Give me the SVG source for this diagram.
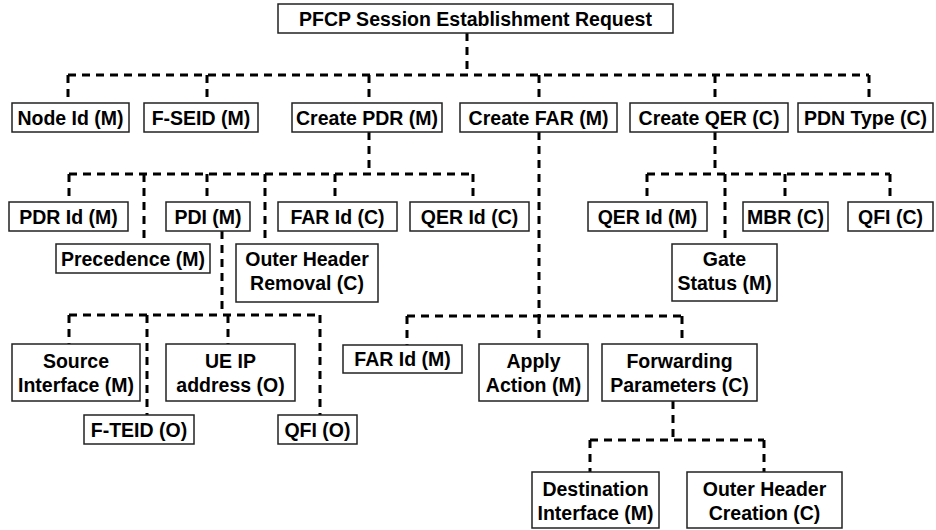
<svg xmlns="http://www.w3.org/2000/svg" width="936" height="530" viewBox="0 0 936 530">
<style>
.b{fill:#fff;stroke:#222;stroke-width:1.5}
.t{font-family:"Liberation Sans",Arial,sans-serif;font-weight:bold;font-size:19.5px;fill:#000;text-anchor:middle}
.c{fill:none;stroke:#000;stroke-width:3;stroke-dasharray:8 6}
</style>
<rect width="936" height="530" fill="#fff"/>
<g id="connectors">
<path class="c" d="M467 33V75M68 75H869M68 75V103M207 75V103M369 75V103M539 75V103M715 75V103M869 75V103"/>
<path class="c" d="M369 132V174M69 174H473M69 174V202M144 174V244M207 174V202M265 174V244M335 174V202M473 174V202"/>
<path class="c" d="M715 132V174M647 174H890M647 174V202M725 174V244M785 174V202M890 174V202"/>
<path class="c" d="M539 132V316M407 316H682M407 316V345M539 316V344M682 316V344"/>
<path class="c" d="M222 231V315M69 315H320M69 315V344M147 315V415M228 315V344M320 315V415"/>
<path class="c" d="M673 401V440M590 440H764M590 440V472M764 440V472"/>
</g>
<g id="root"><rect class="b" x="278" y="4" width="395" height="29"/><text class="t" x="475.5" y="25.5">PFCP Session Establishment Request</text></g>
<g id="node-id"><rect class="b" x="12" y="103" width="117" height="29"/><text class="t" x="70.5" y="124.5">Node Id (M)</text></g>
<g id="f-seid"><rect class="b" x="144" y="103" width="114" height="29"/><text class="t" x="201" y="124.5">F-SEID (M)</text></g>
<g id="create-pdr"><rect class="b" x="292" y="103" width="150" height="29"/><text class="t" x="367" y="124.5">Create PDR (M)</text></g>
<g id="create-far"><rect class="b" x="460" y="103" width="157" height="29"/><text class="t" x="538.5" y="124.5">Create FAR (M)</text></g>
<g id="create-qer"><rect class="b" x="630" y="103" width="158" height="29"/><text class="t" x="709" y="124.5">Create QER (C)</text></g>
<g id="pdn-type"><rect class="b" x="798" y="103" width="135" height="29"/><text class="t" x="865.5" y="124.5">PDN Type (C)</text></g>
<g id="pdr-id"><rect class="b" x="9" y="202" width="119" height="29"/><text class="t" x="68.5" y="223.5">PDR Id (M)</text></g>
<g id="precedence"><rect class="b" x="56" y="244" width="154" height="29"/><text class="t" x="133" y="265.5">Precedence (M)</text></g>
<g id="pdi"><rect class="b" x="166" y="202" width="84" height="29"/><text class="t" x="208" y="223.5">PDI (M)</text></g>
<g id="outer-header-removal"><rect class="b" x="236" y="244" width="142" height="58"/><text class="t" x="307" y="266">Outer Header</text><text class="t" x="307" y="290">Removal (C)</text></g>
<g id="far-id-c"><rect class="b" x="278" y="202" width="119" height="29"/><text class="t" x="337.5" y="223.5">FAR Id (C)</text></g>
<g id="qer-id-c"><rect class="b" x="410" y="202" width="119" height="29"/><text class="t" x="469.5" y="223.5">QER Id (C)</text></g>
<g id="qer-id-m"><rect class="b" x="588" y="202" width="119" height="29"/><text class="t" x="647.5" y="223.5">QER Id (M)</text></g>
<g id="gate-status"><rect class="b" x="672" y="244" width="105" height="57"/><text class="t" x="724.5" y="265.5">Gate</text><text class="t" x="724.5" y="289.5">Status (M)</text></g>
<g id="mbr"><rect class="b" x="743" y="202" width="85" height="29"/><text class="t" x="785.5" y="223.5">MBR (C)</text></g>
<g id="qfi-c"><rect class="b" x="848" y="202" width="85" height="29"/><text class="t" x="890.5" y="223.5">QFI (C)</text></g>
<g id="source-interface"><rect class="b" x="12" y="344" width="128" height="57"/><text class="t" x="76" y="368">Source</text><text class="t" x="76" y="392">Interface (M)</text></g>
<g id="f-teid"><rect class="b" x="84" y="415" width="110" height="29"/><text class="t" x="139" y="436.5">F-TEID (O)</text></g>
<g id="ue-ip"><rect class="b" x="166" y="344" width="129" height="57"/><text class="t" x="230.5" y="368">UE IP</text><text class="t" x="230.5" y="392">address (O)</text></g>
<g id="qfi-o"><rect class="b" x="278" y="415" width="79" height="29"/><text class="t" x="317.5" y="436.5">QFI (O)</text></g>
<g id="far-id-m"><rect class="b" x="343" y="345" width="119" height="28"/><text class="t" x="402.5" y="366">FAR Id (M)</text></g>
<g id="apply-action"><rect class="b" x="479" y="344" width="109" height="57"/><text class="t" x="533.5" y="368">Apply</text><text class="t" x="533.5" y="392">Action (M)</text></g>
<g id="forwarding-parameters"><rect class="b" x="602" y="344" width="155" height="57"/><text class="t" x="679.5" y="368">Forwarding</text><text class="t" x="679.5" y="392">Parameters (C)</text></g>
<g id="destination-interface"><rect class="b" x="532" y="472" width="127" height="56"/><text class="t" x="595.5" y="496">Destination</text><text class="t" x="595.5" y="520">Interface (M)</text></g>
<g id="outer-header-creation"><rect class="b" x="687" y="472" width="155" height="56"/><text class="t" x="764.5" y="496">Outer Header</text><text class="t" x="764.5" y="520">Creation (C)</text></g>
</svg>
